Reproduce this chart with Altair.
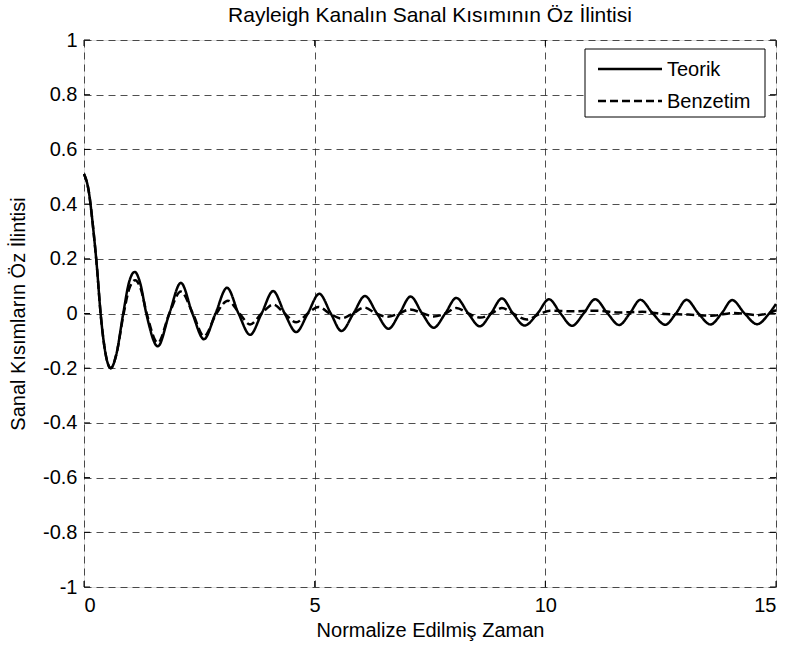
import altair as alt
import pandas as pd

# Teorik (theoretical) curve, key points
teorik_t = [0, 0.1, 0.2, 0.28, 0.36, 0.46, 0.58, 0.7, 0.85, 0.97, 1.1, 1.22, 1.35, 1.6, 1.85,
            2.1, 2.35, 2.6, 2.85, 3.1, 3.35, 3.6, 3.85, 4.1, 4.35, 4.6, 4.85, 5.1, 5.35, 5.58,
            5.84, 6.09, 6.35, 6.6, 6.84, 7.08, 7.33, 7.58, 7.83, 8.07, 8.33, 8.58, 8.82, 9.06,
            9.3, 9.55, 9.83, 10.08, 10.33, 10.58, 10.83, 11.08, 11.35, 11.6, 11.83, 12.06, 12.33,
            12.6, 12.83, 13.06, 13.32, 13.58, 13.82, 14.05, 14.32, 14.59, 14.85, 15.0]
teorik_v = [0.51, 0.45, 0.31, 0.17, 0.0, -0.14, -0.2, -0.15, 0.0, 0.11, 0.152, 0.11, 0.0, -0.12, 0.0,
            0.112, 0.0, -0.094, 0.0, 0.094, 0.0, -0.078, 0.0, 0.082, 0.0, -0.068, 0.0, 0.072, 0.0, -0.064,
            0.0, 0.064, 0.0, -0.056, 0.0, 0.062, 0.0, -0.052, 0.0, 0.057, 0.0, -0.047, 0.0, 0.055,
            0.0, -0.044, 0.0, 0.052, 0.0, -0.045, 0.0, 0.052, 0.0, -0.042, 0.0, 0.05, 0.0,
            -0.041, 0.0, 0.05, 0.0, -0.04, 0.0, 0.049, 0.0, -0.039, 0.0, 0.035]

# Benzetim (simulation) curve, key points
benzetim_t = [0, 0.1, 0.2, 0.28, 0.36, 0.46, 0.58, 0.7, 0.86, 0.98, 1.11, 1.23, 1.36, 1.6, 1.85,
              2.1, 2.36, 2.6, 2.87, 3.12, 3.37, 3.6, 3.85, 4.1, 4.35, 4.6, 4.85, 5.08, 5.33, 5.57,
              5.83, 6.07, 6.33, 6.57, 6.83, 7.07, 7.35, 7.58, 7.83, 8.07, 8.33, 8.6, 8.83, 9.06,
              9.3, 9.6, 9.9, 10.1, 10.6, 11.1, 11.6, 12.1, 12.6, 13.1, 13.6, 14.1, 14.6, 15.0]
benzetim_v = [0.51, 0.45, 0.31, 0.17, 0.0, -0.14, -0.2, -0.15, 0.0, 0.09, 0.122, 0.09, 0.0, -0.107, 0.0,
              0.08, 0.0, -0.083, 0.0, 0.047, 0.0, -0.04, 0.0, 0.033, 0.0, -0.032, 0.0, 0.024, 0.0, -0.018,
              0.0, 0.022, 0.0, -0.012, 0.0, 0.015, 0.0, -0.011, 0.0, 0.02, 0.0, -0.015, 0.0, 0.02,
              0.0, -0.022, 0.0, 0.01, 0.008, 0.01, 0.004, 0.006, -0.002, -0.004, -0.008, 0.002, -0.006, 0.012]

series_names = ["Teorik", "Benzetim"]
x_ticks = [0, 5, 10, 15]
y_ticks = [-1, -0.8, -0.6, -0.4, -0.2, 0, 0.2, 0.4, 0.6, 0.8, 1]

title_text = "Rayleigh Kanalın Sanal Kısımının Öz İlintisi"
x_title = "Normalize Edilmiş Zaman"
y_title = "Sanal Kısımların Öz İlintisi"

FONT = "Liberation Sans"
W, H = 692, 547
FS = 20

df = pd.concat([
    pd.DataFrame({"t": teorik_t, "v": teorik_v, "seri": series_names[0], "o": range(len(teorik_t))}),
    pd.DataFrame({"t": benzetim_t, "v": benzetim_v, "seri": series_names[1], "o": range(len(benzetim_t))}),
])

xs = alt.Scale(domain=[0, 15], nice=False, zero=False)
ys = alt.Scale(domain=[-1, 1], nice=False, zero=False)
dash_scale = alt.Scale(domain=series_names, range=[[1, 0], [8, 4]])

ylab = "datum.value == 0 ? '0' : (datum.value < 0 ? '-' + format(-datum.value, '.1~f') : format(datum.value, '.1~f'))"

axis_common = dict(grid=True, labelFontSize=FS, titleFontSize=FS, ticks=False, domain=False,
                   labelFont=FONT, titleFont=FONT, titleFontWeight="normal",
                   labelColor="black", titleColor="black",
                   gridColor="#222", gridDash=[7, 5], gridWidth=0.8)

lines = alt.Chart(df).mark_line(interpolate="monotone", strokeWidth=2.5, color="black").encode(
    x=alt.X("t:Q", scale=xs, axis=alt.Axis(values=x_ticks, title=x_title, labelPadding=8,
                                           titlePadding=5, **axis_common)),
    y=alt.Y("v:Q", scale=ys, axis=alt.Axis(values=y_ticks, title=y_title, labelExpr=ylab,
                                           labelPadding=7, titlePadding=14, **axis_common)),
    strokeDash=alt.StrokeDash("seri:N", scale=dash_scale, legend=None),
    order="o:Q",
)

ydf = pd.DataFrame({"y": y_ticks})
xdf = pd.DataFrame({"x": x_ticks})
tick_l = alt.Chart(ydf).mark_rule(color="black", strokeWidth=1).encode(
    y=alt.Y("y:Q", scale=ys), x=alt.value(0), x2=alt.value(6))
tick_r = alt.Chart(ydf).mark_rule(color="black", strokeWidth=1).encode(
    y=alt.Y("y:Q", scale=ys), x=alt.value(W - 6), x2=alt.value(W))
tick_b = alt.Chart(xdf).mark_rule(color="black", strokeWidth=1).encode(
    x=alt.X("x:Q", scale=xs), y=alt.value(H), y2=alt.value(H - 6))
tick_t = alt.Chart(xdf).mark_rule(color="black", strokeWidth=1).encode(
    x=alt.X("x:Q", scale=xs), y=alt.value(0), y2=alt.value(6))

# legend (MATLAB style box in the upper right)
leg_df = pd.DataFrame({"seri": series_names, "i": [0, 1]})
leg_box = alt.Chart(pd.DataFrame({"k": [0]})).mark_rect(
    fill="white", stroke="black", strokeWidth=1).encode(
    x=alt.value(501), x2=alt.value(681), y=alt.value(9), y2=alt.value(77))
leg_base = alt.Chart(leg_df).transform_calculate(ly="29 + 32 * datum.i")
leg_lines = leg_base.mark_rule(color="black", strokeWidth=2.5).encode(
    x=alt.value(514), x2=alt.value(578), y=alt.Y("ly:Q", scale=None),
    strokeDash=alt.StrokeDash("seri:N", scale=dash_scale, legend=None))
leg_text = leg_base.mark_text(align="left", baseline="middle", font=FONT, fontSize=FS,
                              color="black", dy=1).encode(
    x=alt.value(583), y=alt.Y("ly:Q", scale=None), text="seri:N")

chart = alt.layer(tick_l, tick_r, tick_b, tick_t, lines, leg_box, leg_lines, leg_text).properties(
    width=W, height=H,
    title=alt.TitleParams(title_text, fontSize=21, font=FONT, fontWeight="normal", color="black",
                          anchor="middle", offset=4),
    autosize=alt.AutoSizeParams(type="none"),
    padding={"left": 84, "top": 40, "right": 14, "bottom": 63},
).configure_view(stroke="black", strokeWidth=1.2).configure(background="white")

chart.save("out.html", embed_options={"renderer": "svg", "actions": False})
